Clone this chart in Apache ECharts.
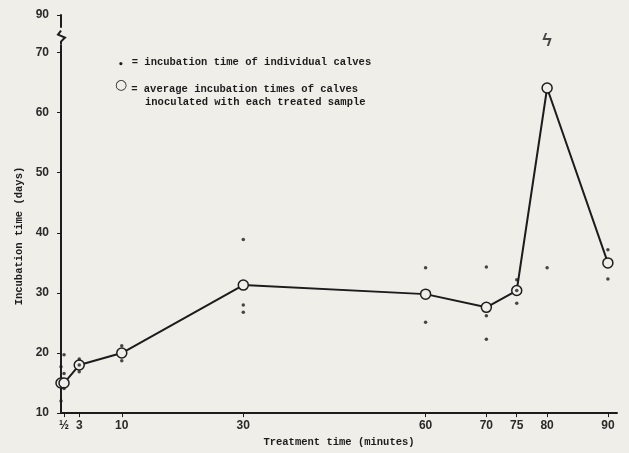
<!DOCTYPE html>
<html>
<head>
<meta charset="utf-8">
<script src="https://cdn.jsdelivr.net/npm/echarts@6/dist/echarts.min.js"></script>
<style>
    html, body { margin: 0; padding: 0; background: #efeee9; }
    #chart { width: 629px; height: 453px; }
</style>
</head>
<body>
<div id="chart"></div>
<script>
// average incubation time per treated sample
const avgMinutes = [0, 0.5, 3, 10, 30, 60, 70, 75, 80, 90];
const avgDays = [15, 15, 18, 20, 31.3, 29.8, 27.6, 30.4, 64.1, 35];

// individual calves
const calfMinutes = [0, 0, 0.5, 0.5, 0.5, 3, 3, 3, 10, 10, 30, 30, 30, 60, 60, 70, 70, 70, 75, 75, 75, 80, 90, 90];
const calfDays = [17.7, 12, 19.7, 16.6, 14.1, 19, 18, 16.9, 21.2, 18.7, 38.9, 28, 26.8, 34.2, 25.1, 34.3, 26.2, 22.3, 32.2, 30.4, 28.3, 34.2, 37.2, 32.3];

// calf off the scale at 80 min
const offScaleMinutes = [80];

const xTicks = [0.5, 3, 10, 30, 60, 70, 75, 80, 90];
const yTicks = [10, 20, 30, 40, 50, 60, 70, 90];

const ink = '#1c1c1c';
const bg = '#efeee9';
const mono = '"Liberation Mono", "DejaVu Sans Mono", monospace';

const chart = echarts.init(document.getElementById('chart'));

chart.setOption({
    backgroundColor: bg,
    animation: false,
    grid: {
        left: 61,
        right: 12,
        top: 15,
        bottom: 35
    },
    legend: {
        orient: 'vertical',
        left: 104,
        top: 51,
        icon: 'none',
        itemWidth: 0,
        itemHeight: 0,
        itemGap: 9,
        data: ['individual', 'average'],
        formatter: function (name) {
            if (name === 'individual') {
                return '{dot|•}{t|= incubation time of individual calves}';
            }
            return '{ring|○}{t|= average incubation times of calves}\n{t2|inoculated with each treated sample}';
        },
        textStyle: {
            fontFamily: mono,
            fontSize: 10.5,
            fontWeight: 'bold',
            color: ink,
            lineHeight: 13,
            rich: {
                dot: { fontSize: 9, padding: [4, 8, 0, 4], fontFamily: 'DejaVu Sans' },
                ring: { fontSize: 14, padding: [0, 4, 8, 1], fontFamily: 'DejaVu Sans' },
                t: { fontFamily: mono, fontSize: 10.5, fontWeight: 'bold' },
                t2: { fontFamily: mono, fontSize: 10.5, fontWeight: 'bold', padding: [0, 0, 0, 31] }
            }
        }
    },
    xAxis: {
        type: 'value',
        min: 0,
        max: 91.5,
        name: 'Treatment time (minutes)',
        nameLocation: 'middle',
        nameGap: 23,
        nameTextStyle: { fontFamily: mono, fontSize: 10.5, fontWeight: 'bold', color: ink },
        splitLine: { show: false },
        axisLine: { lineStyle: { color: ink, width: 2 } },
        axisTick: { customValues: xTicks, length: 4, lineStyle: { color: ink } },
        axisLabel: {
            customValues: xTicks,
            margin: 7,
            fontFamily: 'Liberation Sans',
            fontSize: 12,
            fontWeight: 'bold',
            color: '#2a2a2a',
            formatter: function (v) {
                return v === 0.5 ? '½' : String(v);
            }
        }
    },
    yAxis: {
        type: 'value',
        min: 10,
        max: 90,
        interval: 10,
        breaks: [{ start: 72, end: 88, gap: '3.4%' }],
        breakArea: { show: false },
        name: 'Incubation time (days)',
        nameLocation: 'middle',
        nameGap: 36,
        nameTextStyle: { fontFamily: mono, fontSize: 10.5, fontWeight: 'bold', color: ink, padding: [0, 44, 0, 0] },
        splitLine: { show: false },
        axisLine: { show: true, lineStyle: { color: ink, width: 2 } },
        axisTick: { show: true, customValues: yTicks, length: 4, lineStyle: { color: ink } },
        axisLabel: {
            customValues: yTicks,
            margin: 12,
            fontFamily: 'Liberation Sans',
            fontSize: 12,
            fontWeight: 'bold',
            color: '#2a2a2a'
        }
    },
    series: [
        {
            name: 'average',
            type: 'line',
            data: avgMinutes.map((m, i) => [m, avgDays[i]]),
            symbol: 'circle',
            symbolSize: 10,
            lineStyle: { color: ink, width: 2 },
            itemStyle: { color: bg, borderColor: ink, borderWidth: 1.5 },
            z: 2
        },
        {
            name: 'individual',
            type: 'scatter',
            data: calfMinutes.map((m, i) => [m, calfDays[i]]),
            symbolSize: 3.5,
            itemStyle: { color: ink },
            z: 3
        },
        {
            name: 'offscale',
            type: 'scatter',
            data: offScaleMinutes.map(m => [m, 72]),
            symbolSize: 1,
            itemStyle: { color: 'transparent' },
            label: { show: true, position: 'inside', formatter: 'ϟ', fontSize: 18, fontWeight: 'bold', color: ink },
            z: 4
        }
    ]
});

// zigzag on the y axis where the scale breaks
const ax = chart.convertToPixel({ xAxisIndex: 0 }, 0);
const yb = chart.convertToPixel({ yAxisIndex: 0 }, 72);
chart.setOption({
    graphic: [
        {
            type: 'rect',
            shape: { x: ax - 3, y: yb - 10, width: 6, height: 14 },
            style: { fill: bg },
            z: 50
        },
        {
            type: 'polyline',
            shape: { points: [[ax, yb + 4], [ax, yb + 1], [ax + 4, yb - 3], [ax - 3, yb - 6], [ax, yb - 10]] },
            style: { stroke: ink, lineWidth: 2, fill: null },
            z: 51
        }
    ]
});
</script>
</body>
</html>
